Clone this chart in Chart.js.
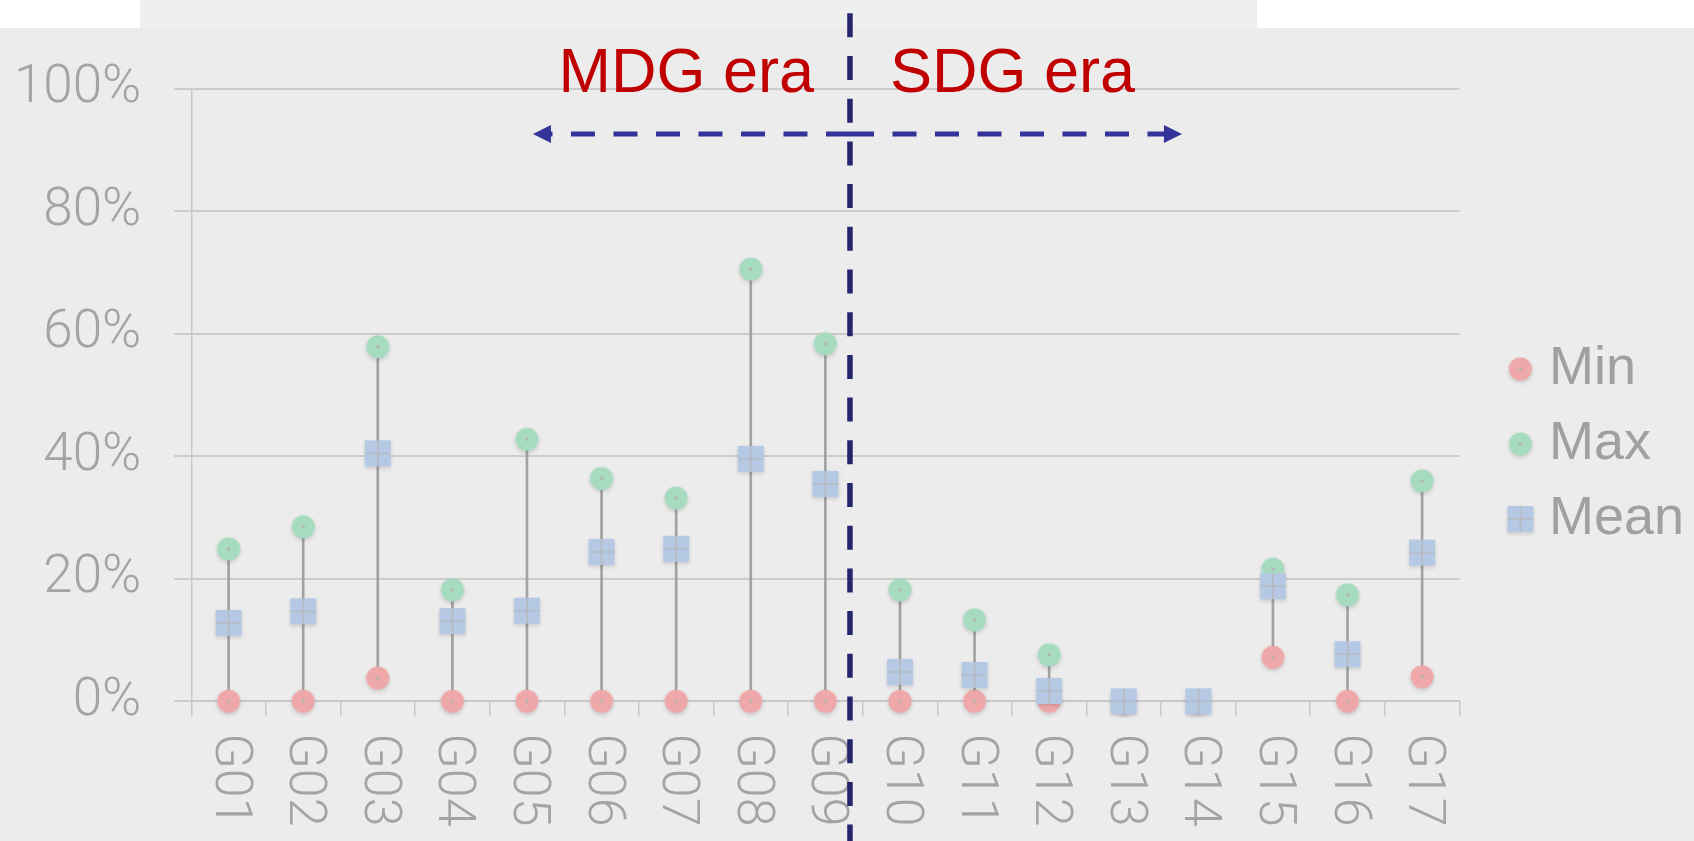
<!DOCTYPE html>
<html>
<head>
<meta charset="utf-8">
<script src="https://cdn.jsdelivr.net/npm/chart.js@4.4.1/dist/chart.umd.min.js"></script>
<style>
  html, body { margin: 0; padding: 0; background: #ececec; overflow: hidden; }
  #wrap { width: 1694px; height: 841px; position: relative; }
  canvas { display: block; }
</style>
</head>
<body>
<div id="wrap"><canvas id="c" width="1694" height="841"></canvas></div>
<script>
// ---------------- data ----------------
const categories = ['G01','G02','G03','G04','G05','G06','G07','G08','G09','G10','G11','G12','G13','G14','G15','G16','G17'];
const minValues  = [0, 0, 3.8, 0, 0, 0, 0, 0, 0, 0, 0, 0, 0, 0, 7.2, 0, 4.0];
const maxValues  = [24.9, 28.5, 57.9, 18.2, 42.8, 36.4, 33.2, 70.6, 58.4, 18.2, 13.3, 7.6, 0, 0, 21.6, 17.4, 36.0];
const meanValues = [12.8, 14.7, 40.5, 13.1, 14.8, 24.4, 24.9, 39.6, 35.5, 4.8, 4.3, 1.7, 0, 0, 18.8, 7.7, 24.3];
const yTickValues = [0, 20, 40, 60, 80, 100];
const seriesNames = ['Min', 'Max', 'Mean'];
const eraLabels = ['MDG era', 'SDG era'];
// era split / arrow extent, in category-index units
const eraSplit = 8.33;
const arrowLeftEnd = 4.08;
const arrowRightEnd = 12.78;

// ---------------- marker images ----------------
function circleMarker(color) {
  const c = document.createElement('canvas');
  c.width = 34; c.height = 34;
  const g = c.getContext('2d');
  g.shadowColor = 'rgba(0,0,0,0.16)';
  g.shadowBlur = 4; g.shadowOffsetY = 2;
  g.fillStyle = color;
  g.beginPath(); g.arc(17, 17, 11.5, 0, Math.PI * 2); g.fill();
  g.shadowColor = 'transparent';
  g.fillStyle = '#b3b3b3';
  g.beginPath(); g.arc(17, 17, 1.7, 0, Math.PI * 2); g.fill();
  return c;
}
function squareMarker(color) {
  const c = document.createElement('canvas');
  c.width = 38; c.height = 38;
  const g = c.getContext('2d');
  g.shadowColor = 'rgba(0,0,0,0.14)';
  g.shadowBlur = 4; g.shadowOffsetY = 2;
  g.fillStyle = color;
  g.fillRect(6, 6, 26, 26);
  g.shadowColor = 'transparent';
  g.strokeStyle = '#b6bac0';
  g.lineWidth = 1.6;
  g.beginPath();
  g.moveTo(19, 6); g.lineTo(19, 32);
  g.moveTo(6, 19); g.lineTo(32, 19);
  g.stroke();
  return c;
}
const minImg = circleMarker('#efa8a9');
const maxImg = circleMarker('#a6dbbf');
const meanImg = squareMarker('#b5c9e4');

// ---------------- decoration plugin ----------------
const decor = {
  id: 'decor',
  beforeDraw(chart) {
    const ctx = chart.ctx;
    ctx.save();
    ctx.fillStyle = '#ececec';
    ctx.fillRect(0, 0, chart.width, chart.height);
    ctx.fillStyle = '#ffffff';
    ctx.fillRect(0, 0, chart.width, 28);
    ctx.fillStyle = '#eef0ef';
    ctx.fillRect(140, 0, 1257 - 140, 28);
    ctx.restore();
  },
  afterDraw(chart) {
    const ctx = chart.ctx;
    const x = chart.scales.x;
    // rotated category labels (reading top to bottom)
    ctx.save();
    ctx.fillStyle = '#a4a4a4';
    ctx.font = '300 52px Roboto';
    ctx.textAlign = 'left';
    ctx.textBaseline = 'middle';
    categories.forEach((lab, i) => {
      const px = x.getPixelForTick(i);
      ctx.save();
      ctx.translate(px, x.top + 32);
      ctx.rotate(Math.PI / 2);
      ctx.fillText(lab, 0, 0);
      ctx.restore();
    });
    ctx.restore();

    const sx = x.getPixelForValue(eraSplit);
    const lx = x.getPixelForValue(arrowLeftEnd);
    const rx = x.getPixelForValue(arrowRightEnd);
    const ay = 134;

    // horizontal dashed double arrow
    ctx.save();
    ctx.strokeStyle = '#333399';
    ctx.fillStyle = '#333399';
    ctx.lineWidth = 5;
    ctx.setLineDash([24, 18.5]);
    ctx.beginPath(); ctx.moveTo(sx, ay); ctx.lineTo(lx + 16, ay); ctx.stroke();
    ctx.beginPath(); ctx.moveTo(sx, ay); ctx.lineTo(rx - 16, ay); ctx.stroke();
    ctx.setLineDash([]);
    ctx.beginPath(); ctx.moveTo(lx, ay); ctx.lineTo(lx + 18, ay - 9); ctx.lineTo(lx + 18, ay + 9); ctx.closePath(); ctx.fill();
    ctx.beginPath(); ctx.moveTo(rx, ay); ctx.lineTo(rx - 18, ay - 9); ctx.lineTo(rx - 18, ay + 9); ctx.closePath(); ctx.fill();
    ctx.restore();

    // vertical dashed divider
    ctx.save();
    ctx.strokeStyle = '#25256e';
    ctx.lineWidth = 5.5;
    ctx.setLineDash([24, 18.7]);
    ctx.beginPath(); ctx.moveTo(sx, 13.3); ctx.lineTo(sx, chart.height); ctx.stroke();
    ctx.restore();

    // era labels
    ctx.save();
    ctx.fillStyle = '#c00000';
    ctx.font = '63px "Liberation Sans", Arial, sans-serif';
    ctx.textBaseline = 'alphabetic';
    ctx.textAlign = 'right';
    ctx.fillText(eraLabels[0], sx - 36, 91.5);
    ctx.textAlign = 'left';
    ctx.fillText(eraLabels[1], sx + 40, 91.5);
    ctx.restore();
  }
};

// ---------------- chart ----------------
const rangeData = categories.map((_, i) => [minValues[i], maxValues[i]]);

new Chart(document.getElementById('c'), {
  data: {
    labels: categories,
    datasets: [
      { type: 'line', label: seriesNames[0], data: minValues, showLine: false,
        pointStyle: minImg, pointRadius: 12, pointHoverRadius: 12, order: 2, clip: false,
        backgroundColor: '#efa8a9', borderColor: '#efa8a9', yAxisID: 'y' },
      { type: 'line', label: seriesNames[1], data: maxValues, showLine: false,
        pointStyle: maxImg, pointRadius: 12, pointHoverRadius: 12, order: 3, clip: false,
        backgroundColor: '#a6dbbf', borderColor: '#a6dbbf', yAxisID: 'y' },
      { type: 'line', label: seriesNames[2], data: meanValues, showLine: false,
        pointStyle: meanImg, pointRadius: 13, pointHoverRadius: 13, order: 1, clip: false,
        backgroundColor: '#b5c9e4', borderColor: '#b5c9e4', yAxisID: 'y' },
      { type: 'bar', label: 'range', data: rangeData, backgroundColor: '#a2a2a2',
        borderWidth: 0, barThickness: 2, order: 4, yAxisID: 'y' }
    ]
  },
  options: {
    responsive: false,
    animation: false,
    devicePixelRatio: 1,
    events: [],
    layout: { padding: { top: 89, bottom: 42, left: 0, right: 0 } },
    plugins: {
      tooltip: { enabled: false },
      legend: {
        position: 'right',
        align: 'center',
        labels: {
          usePointStyle: true,
          boxWidth: 3,
          boxHeight: 16,
          padding: 21,
          color: '#a0a0a0',
          font: { family: '"Liberation Sans", Arial, sans-serif', size: 54 },
          filter: (item) => item.datasetIndex !== 3,
          sort: (a, b) => a.datasetIndex - b.datasetIndex
        }
      }
    },
    scales: {
      x: {
        type: 'category',
        offset: true,
        afterFit: (s) => { s.height = 97.7; },
        grid: { display: true, drawOnChartArea: false, drawTicks: true, tickLength: 15,
                color: '#c8c8c8', lineWidth: 1.5, offset: true },
        border: { display: true, color: '#c8c8c8', width: 2 },
        ticks: { display: false }
      },
      y: {
        position: 'left',
        min: 0, max: 100,
        afterFit: (s) => { s.width = 191.3; },
        afterBuildTicks: (s) => { s.ticks = yTickValues.map(v => ({ value: v })); },
        grid: { color: '#cbcbcb', lineWidth: 2, drawTicks: true, tickLength: 17 },
        border: { display: true, color: '#c8c8c8', width: 1.5 },
        ticks: {
          padding: 33,
          color: '#a4a4a4',
          font: { family: 'Roboto', weight: 300, size: 53 },
          callback: (v) => v + '%'
        }
      },
      gap: {
        position: 'right',
        display: true,
        afterFit: (s) => { s.width = 38.5; },
        grid: { display: false },
        border: { display: false },
        ticks: { display: false }
      }
    }
  },
  plugins: [decor]
});
</script>
</body>
</html>
